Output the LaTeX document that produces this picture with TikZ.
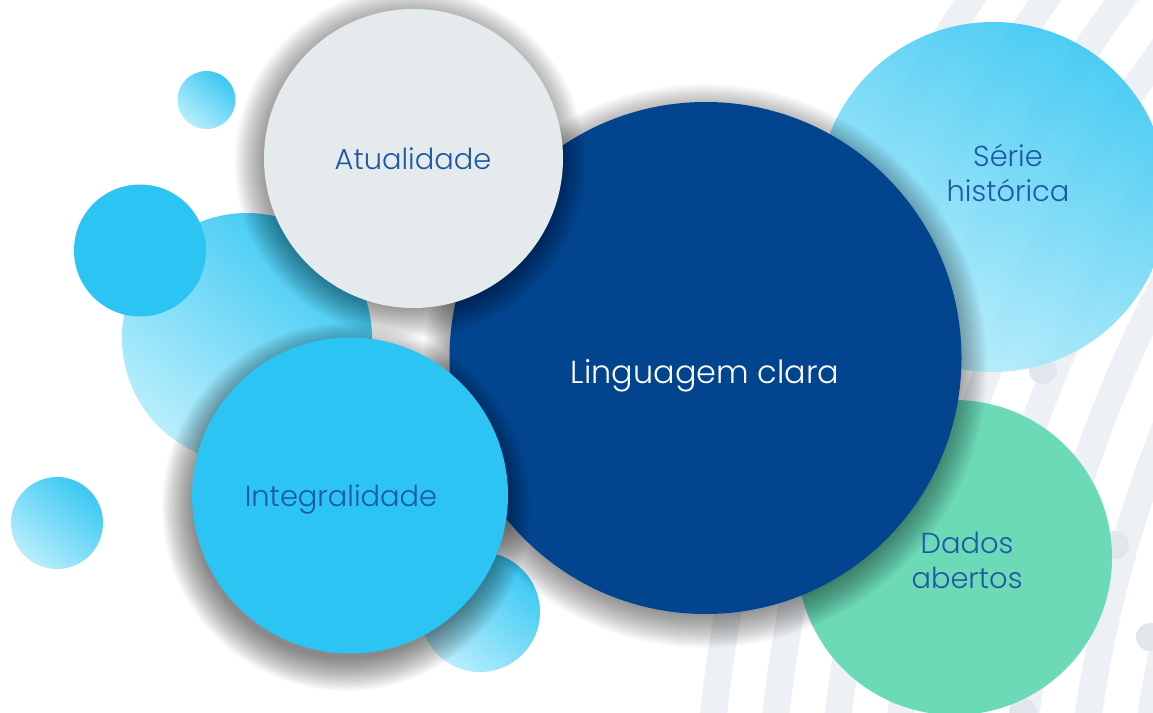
\documentclass[tikz,border=0pt]{standalone}
\usepackage{fontspec}
\newfontfamily\lblfont{Poppins Light}
\definecolor{navy}{HTML}{03448E}
\definecolor{pale}{HTML}{E5EAED}
\definecolor{cyanA}{HTML}{2BC4F3}
\definecolor{mint}{HTML}{6CD9B7}
\definecolor{gdark}{HTML}{3AC8F3}
\definecolor{glight}{HTML}{B8EEFC}
\definecolor{txtblue}{HTML}{1E58A4}
\definecolor{bandc}{HTML}{EDF0F4}
\definecolor{dotc}{HTML}{E2E7ED}
\newcommand\softshadow[5]{\foreach \i in {0,...,19}{\pgfmathsetmacro\rad{#3+#4-\i*(#4+6)/19}\fill[black,opacity=#5] (#1,#2) circle[radius=\rad bp];}}
\tikzset{
  band/.style={draw=bandc, line width=27bp},
  dotmark/.style={fill=dotc},
  bub/.style={circle, inner sep=0pt, outer sep=0pt},
  grad/.style={bub, top color=gdark, bottom color=glight, shading angle=-40},
  lbl/.style={font=\lblfont\fontsize{29}{35}\selectfont, text=txtblue, anchor=base, inner sep=0pt},
}
\begin{document}
\begin{tikzpicture}[x=1bp,y=-1bp]
\useasboundingbox (0,0) rectangle (1153,713);
\fill[white] (0,0) rectangle (1153,713);
\begin{scope}
\clip (0,0) rectangle (1153,713);
% background arcs
\foreach \k in {0,...,7}{\pgfmathsetmacro\rr{1647-62*\k}\draw[band] (2350,900) circle[radius=\rr bp];}
\foreach \p in {(1043,112),(1043,370),(1115,545),(1023,712),(1150,637)}{\fill[dotmark] \p circle[radius=14bp];}
% right circles
\node[grad, minimum size=350bp, fill opacity=0.9, shading angle=-30] (serie) at (993,197) {};
\node[bub, fill=mint, minimum size=315bp] (dados) at (954.5,557.5) {};
% left decorative circles
\node[grad, minimum size=58bp] (dotA) at (206.5,100) {};
\node[grad, minimum size=250bp] (bigl) at (247,338) {};
\node[bub, fill=cyanA, minimum size=132bp] (dotB) at (140,250.5) {};
\node[grad, minimum size=92bp] (dotC) at (57,523) {};
\node[grad, minimum size=120bp] (dotD) at (480,612) {};
% central circle
\softshadow{705}{366}{256}{26}{0.024}
\node[bub, fill=navy, minimum size=512bp] (ling) at (705.5,358) {};
% Atualidade
\softshadow{410}{163}{149.5}{26}{0.024}
\node[bub, fill=pale, minimum size=299bp] (atual) at (413.5,158.5) {};
% Integralidade
\softshadow{346}{507}{158}{26}{0.028}
\node[bub, fill=cyanA, minimum size=316bp] (integ) at (350,495.5) {};
\end{scope}
% labels
\node[lbl] (tatual) at (413,170) {Atualidade};
\node[lbl, text=white, font=\lblfont\fontsize{32}{38}\selectfont] (tling) at (705,383) {Linguagem clara};
\node[lbl] (tinteg) at (341,506) {Integralidade};
\node[lbl] (tserie1) at (1008,167) {Série};
\node[lbl] (tserie2) at (1008,202) {histórica};
\node[lbl] (tdados1) at (967,553) {Dados};
\node[lbl] (tdados2) at (967,588) {abertos};
\end{tikzpicture}
\end{document}
